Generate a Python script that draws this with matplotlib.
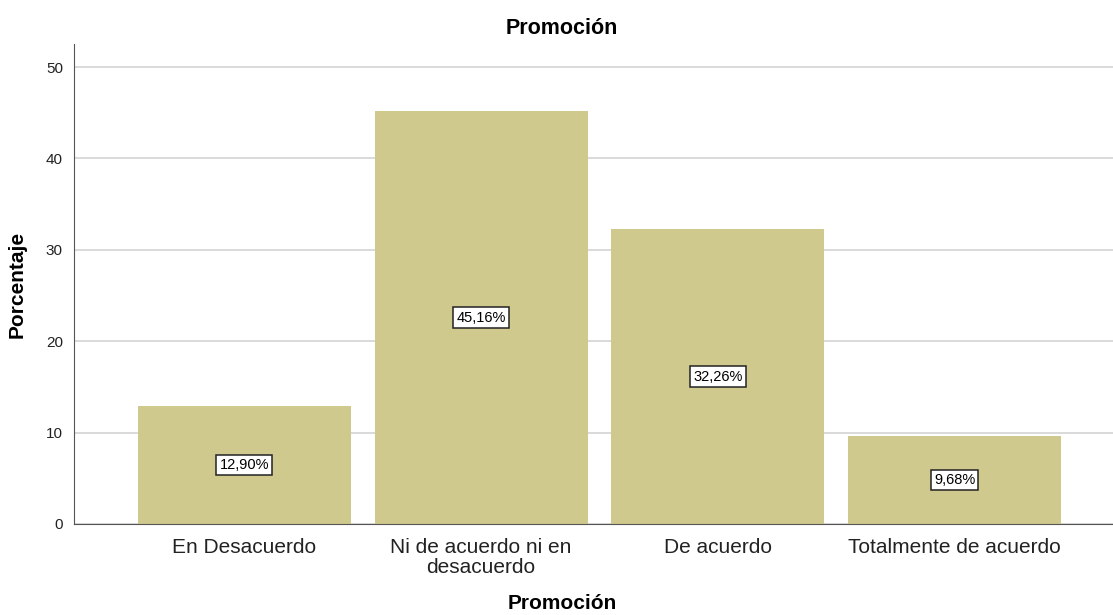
import matplotlib.pyplot as plt

# data
categories = ['En Desacuerdo', 'Ni de acuerdo ni en\ndesacuerdo', 'De acuerdo', 'Totalmente de acuerdo']
percentages = [12.90, 45.16, 32.26, 9.68]
y_ticks = [0, 10, 20, 30, 40, 50]

plt.rcParams['font.family'] = ['Liberation Sans', 'DejaVu Sans']

fig = plt.figure(figsize=(11.13, 6.15), dpi=100)
ax = fig.add_axes([0.0665, 0.148, 0.94, 0.78])

x = range(len(categories))
ax.bar(x, percentages, width=0.9, color='#CFC98E', zorder=2)

# percentage labels in boxes at mid-height
for xi, v in zip(x, percentages):
    ax.text(xi, v / 2, f'{v:.2f}%'.replace('.', ','), ha='center', va='center',
            fontsize=10.5, zorder=3,
            bbox=dict(boxstyle='square,pad=0.22', facecolor='white', edgecolor='#222222', linewidth=1.1))

ax.set_xlim(-0.72, 3.70)
ax.set_ylim(0, 52.5)
ax.set_yticks(y_ticks)
ax.yaxis.grid(True, color='#D3D3D3', linewidth=1.2, zorder=0)
ax.set_axisbelow(True)

ax.set_xticks(list(x))
ax.set_xticklabels(categories, fontsize=15, color='#222222', linespacing=1.05)
ax.tick_params(axis='x', length=0, pad=10)
ax.tick_params(axis='y', labelsize=11, length=0, pad=8, colors='#222222')

for side in ['top', 'right']:
    ax.spines[side].set_visible(False)
ax.spines['left'].set_color('#555555')
ax.spines['bottom'].set_color('#555555')

ax.set_ylabel('Porcentaje', fontsize=15, fontweight='bold')
ax.yaxis.set_label_coords(-0.045, 0.5)
fig.text(0.505, 0.003, 'Promoción', ha='center', va='bottom', fontsize=15, fontweight='bold')
fig.text(0.505, 0.954, 'Promoción', ha='center', va='center', fontsize=15.5, fontweight='bold')

plt.savefig('out.png', dpi=100)
